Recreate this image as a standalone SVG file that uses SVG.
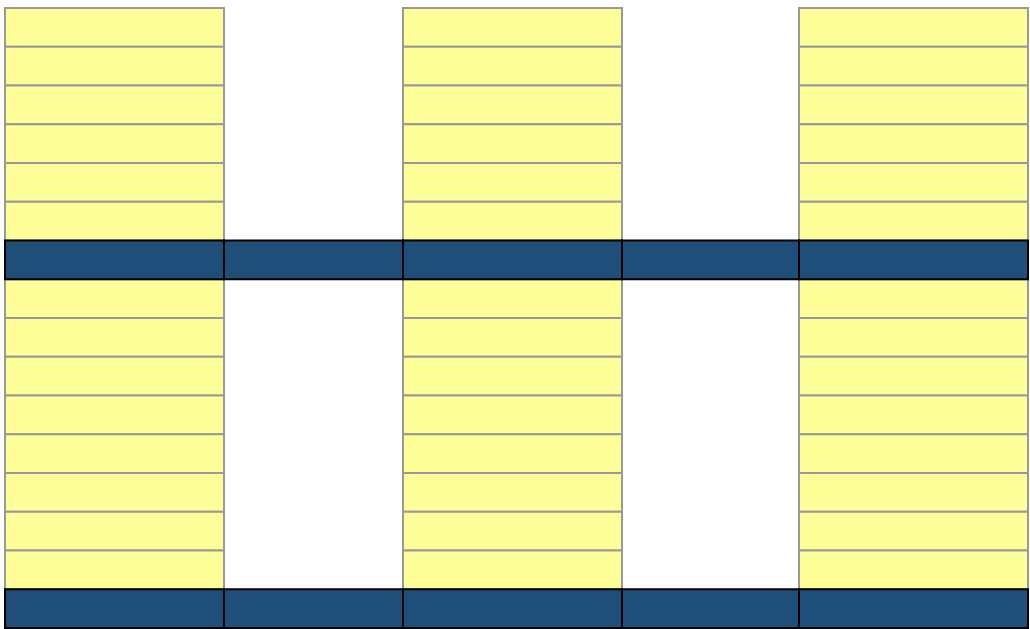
<svg xmlns="http://www.w3.org/2000/svg" width="1030" height="629" viewBox="0 0 1030 629">
<style>
.y{fill:#FFFF99;stroke:#999999;stroke-width:2}
.d{fill:#1F4E79;stroke:#000000;stroke-width:2}
</style>
<rect width="1030" height="629" fill="#ffffff"/>
<g id="col1">
<rect class="y" x="5" y="8" width="219" height="38.75"/>
<rect class="y" x="5" y="46.75" width="219" height="38.75"/>
<rect class="y" x="5" y="85.5" width="219" height="38.75"/>
<rect class="y" x="5" y="124.25" width="219" height="38.75"/>
<rect class="y" x="5" y="163" width="219" height="38.75"/>
<rect class="y" x="5" y="201.75" width="219" height="38.75"/>
<rect class="y" x="5" y="279.25" width="219" height="38.75"/>
<rect class="y" x="5" y="318" width="219" height="38.75"/>
<rect class="y" x="5" y="356.75" width="219" height="38.75"/>
<rect class="y" x="5" y="395.5" width="219" height="38.75"/>
<rect class="y" x="5" y="434.25" width="219" height="38.75"/>
<rect class="y" x="5" y="473" width="219" height="38.75"/>
<rect class="y" x="5" y="511.75" width="219" height="38.75"/>
<rect class="y" x="5" y="550.5" width="219" height="38.75"/>
</g>
<g id="col3">
<rect class="y" x="403" y="8" width="219" height="38.75"/>
<rect class="y" x="403" y="46.75" width="219" height="38.75"/>
<rect class="y" x="403" y="85.5" width="219" height="38.75"/>
<rect class="y" x="403" y="124.25" width="219" height="38.75"/>
<rect class="y" x="403" y="163" width="219" height="38.75"/>
<rect class="y" x="403" y="201.75" width="219" height="38.75"/>
<rect class="y" x="403" y="279.25" width="219" height="38.75"/>
<rect class="y" x="403" y="318" width="219" height="38.75"/>
<rect class="y" x="403" y="356.75" width="219" height="38.75"/>
<rect class="y" x="403" y="395.5" width="219" height="38.75"/>
<rect class="y" x="403" y="434.25" width="219" height="38.75"/>
<rect class="y" x="403" y="473" width="219" height="38.75"/>
<rect class="y" x="403" y="511.75" width="219" height="38.75"/>
<rect class="y" x="403" y="550.5" width="219" height="38.75"/>
</g>
<g id="col5">
<rect class="y" x="799" y="8" width="229" height="38.75"/>
<rect class="y" x="799" y="46.75" width="229" height="38.75"/>
<rect class="y" x="799" y="85.5" width="229" height="38.75"/>
<rect class="y" x="799" y="124.25" width="229" height="38.75"/>
<rect class="y" x="799" y="163" width="229" height="38.75"/>
<rect class="y" x="799" y="201.75" width="229" height="38.75"/>
<rect class="y" x="799" y="279.25" width="229" height="38.75"/>
<rect class="y" x="799" y="318" width="229" height="38.75"/>
<rect class="y" x="799" y="356.75" width="229" height="38.75"/>
<rect class="y" x="799" y="395.5" width="229" height="38.75"/>
<rect class="y" x="799" y="434.25" width="229" height="38.75"/>
<rect class="y" x="799" y="473" width="229" height="38.75"/>
<rect class="y" x="799" y="511.75" width="229" height="38.75"/>
<rect class="y" x="799" y="550.5" width="229" height="38.75"/>
</g>
<g id="band1">
<rect class="d" x="5" y="240.5" width="219" height="38.75"/>
<rect class="d" x="224" y="240.5" width="179" height="38.75"/>
<rect class="d" x="403" y="240.5" width="219" height="38.75"/>
<rect class="d" x="622" y="240.5" width="177" height="38.75"/>
<rect class="d" x="799" y="240.5" width="229" height="38.75"/>
</g>
<g id="band2">
<rect class="d" x="5" y="589.25" width="219" height="38.75"/>
<rect class="d" x="224" y="589.25" width="179" height="38.75"/>
<rect class="d" x="403" y="589.25" width="219" height="38.75"/>
<rect class="d" x="622" y="589.25" width="177" height="38.75"/>
<rect class="d" x="799" y="589.25" width="229" height="38.75"/>
</g>
<g id="connectors"/>
</svg>
